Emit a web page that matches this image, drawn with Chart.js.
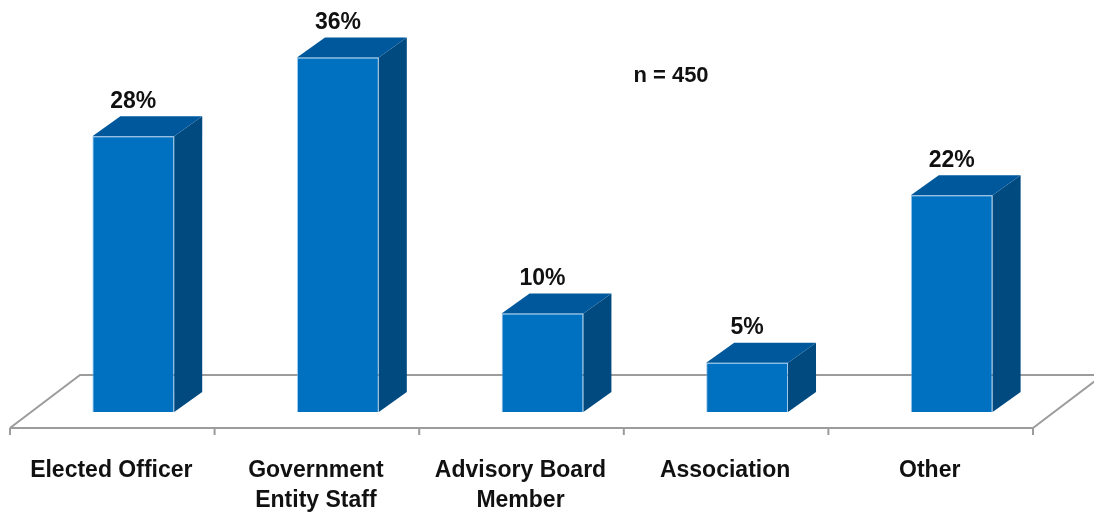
<!DOCTYPE html>
<html>
<head>
<meta charset="utf-8">
<script src="https://cdn.jsdelivr.net/npm/chart.js@4"></script>
<style>
  html, body { margin: 0; padding: 0; background: #fff; }
  #wrap { width: 1094px; height: 519px; }
</style>
</head>
<body>
<div id="wrap"><canvas id="chart" width="1094" height="519"></canvas></div>
<script>
// Respondent roles
const categories = [
  "Elected Officer",
  ["Government", "Entity Staff"],
  ["Advisory Board", "Member"],
  "Association",
  "Other",
];
const percentages = [28, 36, 10, 5, 22];
const sampleNote = "n = 450";

const FRONT = "#0070C0";
const TOP = "#00589C";
const SIDE = "#004A80";
const FLOOR = "#9c9c9c";
const FONT = '"Liberation Sans", Arial, sans-serif';

// depth offsets for the fake 3D look
const BAR_DX = 28, BAR_DY = -20;
const FLOOR_FRONT_DX = -21, FLOOR_FRONT_DY = 16;
const FLOOR_BACK_DX = 49, FLOOR_BACK_DY = -37;

/**
 * Floor plane and category ticks, drawn behind the bars
 */
const floorPlugin = {
  id: "floor",
  beforeDatasetsDraw(chart) {
    const { ctx, chartArea } = chart;
    const base = chartArea.bottom;
    const l = chartArea.left, r = chartArea.right;
    ctx.save();
    ctx.strokeStyle = FLOOR;
    ctx.lineWidth = 2;
    ctx.beginPath();
    // front edge
    ctx.moveTo(l + FLOOR_FRONT_DX, base + FLOOR_FRONT_DY);
    ctx.lineTo(r + FLOOR_FRONT_DX, base + FLOOR_FRONT_DY);
    // sides and back edge
    ctx.moveTo(l + FLOOR_FRONT_DX, base + FLOOR_FRONT_DY);
    ctx.lineTo(l + FLOOR_BACK_DX, base + FLOOR_BACK_DY);
    ctx.lineTo(r + FLOOR_BACK_DX, base + FLOOR_BACK_DY);
    ctx.moveTo(r + FLOOR_FRONT_DX, base + FLOOR_FRONT_DY);
    ctx.lineTo(r + FLOOR_BACK_DX, base + FLOOR_BACK_DY);
    // ticks between categories
    const cw = (r - l) / categories.length;
    for (let i = 0; i <= categories.length; i++) {
      const tx = l + i * cw + FLOOR_FRONT_DX;
      ctx.moveTo(tx, base + FLOOR_FRONT_DY);
      ctx.lineTo(tx, base + FLOOR_FRONT_DY + 7);
    }
    ctx.stroke();
    ctx.restore();
  },
  afterDatasetsDraw(chart) {
    const { ctx } = chart;
    const meta = chart.getDatasetMeta(0);
    ctx.save();
    meta.data.forEach((bar, i) => {
      const { x, y, base, width } = bar.getProps(["x", "y", "base", "width"], true);
      const left = x - width / 2, right = x + width / 2;
      // side face
      ctx.fillStyle = SIDE;
      ctx.beginPath();
      ctx.moveTo(right, y);
      ctx.lineTo(right + BAR_DX, y + BAR_DY);
      ctx.lineTo(right + BAR_DX, base + BAR_DY);
      ctx.lineTo(right, base);
      ctx.closePath();
      ctx.fill();
      // top face
      ctx.fillStyle = TOP;
      ctx.beginPath();
      ctx.moveTo(left, y);
      ctx.lineTo(left + BAR_DX, y + BAR_DY);
      ctx.lineTo(right + BAR_DX, y + BAR_DY);
      ctx.lineTo(right, y);
      ctx.closePath();
      ctx.fill();
      // value label
      ctx.fillStyle = "#111";
      ctx.font = `bold 23px ${FONT}`;
      ctx.textAlign = "center";
      ctx.textBaseline = "middle";
      ctx.fillText(`${percentages[i]}%`, x, y - 35);
    });
    // sample size note
    ctx.font = `bold 22px ${FONT}`;
    ctx.fillText(sampleNote, 671, 76);
    ctx.restore();
  },
};

new Chart(document.getElementById("chart"), {
  type: "bar",
  data: {
    labels: categories,
    datasets: [
      {
        data: percentages,
        backgroundColor: FRONT,
        borderColor: "rgba(120,180,230,0.7)",
        borderWidth: 1,
        categoryPercentage: 1,
        barPercentage: 0.4,
      },
    ],
  },
  options: {
    responsive: false,
    animation: false,
    layout: { padding: { left: 31, right: 40, top: 18, bottom: 0 } },
    plugins: {
      legend: { display: false },
      tooltip: { enabled: false },
    },
    scales: {
      x: {
        grid: { display: false },
        border: { display: false },
        ticks: {
          color: "#111",
          font: { family: FONT, size: 23, weight: "bold", lineHeight: 1.3 },
          padding: 36,
          labelOffset: -22,
          maxRotation: 0,
          autoSkip: false,
        },
        afterFit(axis) {
          axis.height = 107;
          axis.paddingLeft = 0;
          axis.paddingRight = 0;
        },
      },
      y: {
        display: false,
        min: 0,
        max: 40,
      },
    },
  },
  plugins: [floorPlugin],
});
</script>
</body>
</html>
